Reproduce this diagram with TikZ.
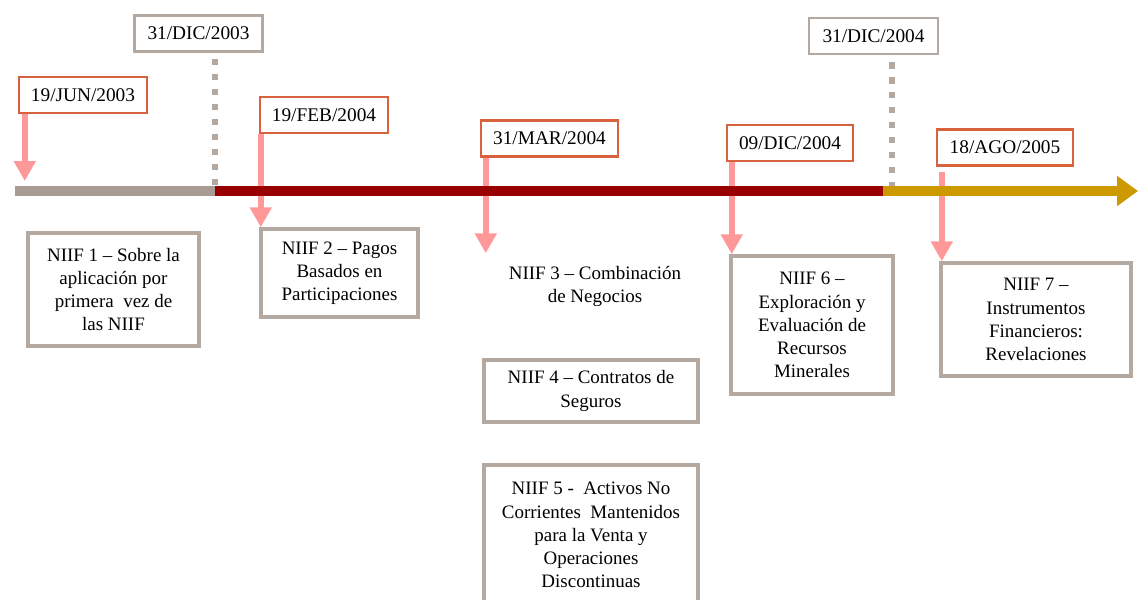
\documentclass[tikz,border=0pt]{standalone}
\usepackage{fontspec}
\setmainfont{Liberation Serif}
\usepackage{xcolor}
\usetikzlibrary{arrows.meta}

\definecolor{dateorange}{HTML}{D9623E}
\definecolor{boxgray}{HTML}{B3A9A1}
\definecolor{arrowpink}{HTML}{FF9999}
\definecolor{linegray}{HTML}{A89C94}
\definecolor{linered}{HTML}{990000}
\definecolor{linegold}{HTML}{CC9900}

\begin{document}
\begin{tikzpicture}[x=0.02cm,y=-0.02cm]
        % Define styles
        \tikzset{
            datebox/.style={rectangle, draw=dateorange, line width=0.05cm, fill=white, minimum width=2.56cm, minimum height=0.72cm, inner sep=0pt, font=\fontsize{11}{13.2}\selectfont},
            milestone/.style={datebox, draw=boxgray},
            niif/.style={rectangle, draw=boxgray, line width=0.07cm, fill=white, align=center, inner sep=0pt, font=\fontsize{10.8}{13.2}\selectfont},
            arrow/.style={draw=arrowpink, line width=0.12cm, -{Triangle[width=0.42cm,length=0.4cm]}},
            dots/.style={draw=boxgray, line width=0.13cm, dash pattern=on 0.13cm off 0.17cm},
            timeline/.style={line width=0.2cm}
        }
        \useasboundingbox (0,0) rectangle (1138,599);

        % Timeline points
        \coordinate (t0) at (15,191);
        \coordinate (t1) at (215,191);
        \coordinate (t2) at (883,191);
        \coordinate (t3) at (1138,191);

        % Nodes
        \node[milestone] (milestone_node_1) at (198.5,33.5) {31/DIC/2003};
        \node[milestone, minimum width=2.58cm] (milestone_node_2) at (873.5,36) {31/DIC/2004};

        \node[datebox] (date_node_1) at (83,95) {19/JUN/2003};
        \node[datebox] (date_node_2) at (324,115) {19/FEB/2004};
        \node[datebox, minimum width=2.74cm] (date_node_3) at (549.5,138.5) {31/MAR/2004};
        \node[datebox, minimum width=2.52cm] (date_node_4) at (790,143) {09/DIC/2004};
        \node[datebox, minimum width=2.72cm] (date_node_5) at (1005,147.5) {18/AGO/2005};

        \node[niif, minimum width=3.42cm, minimum height=2.26cm] (niif_node_1) at (113.5,289.5) {NIIF 1 – Sobre la\\aplicación por\\primera\ \ vez de\\las NIIF};
        \node[niif, minimum width=3.14cm, minimum height=1.76cm] (niif_node_2) at (339.5,273) {NIIF 2 – Pagos\\Basados en\\Participaciones};
        \node[niif, draw=none, minimum width=4.2cm, minimum height=1.26cm] (niif_node_3) at (595,286.5) {NIIF 3 – Combinación\\de Negocios};
        \node[niif, minimum width=4.28cm, minimum height=1.24cm] (niif_node_4) at (591,391) {NIIF 4 – Contratos de\\Seguros};
        \node[niif, minimum width=4.28cm, minimum height=2.8cm] (niif_node_5) at (591,535) {NIIF 5 -\ \ Activos No\\Corrientes\ \ Mantenidos\\para la Venta y\\Operaciones\\Discontinuas};
        \node[niif, minimum width=3.24cm, minimum height=2.76cm] (niif_node_6) at (812,325) {NIIF 6 –\\Exploración y\\Evaluación de\\Recursos\\Minerales};
        \node[niif, minimum width=3.8cm, minimum height=2.26cm] (niif_node_7) at (1036,319.5) {NIIF 7 –\\Instrumentos\\Financieros:\\Revelaciones};

        % Arrow ends
        \coordinate (a1) at ([xshift=0.14cm]date_node_1.south west);
        \coordinate (a1e) at ([yshift=0.2cm]a1 |- t0);
        \coordinate (a2) at ([xshift=0.04cm]date_node_2.south west);
        \coordinate (a3) at ([xshift=0.12cm]date_node_3.south west);
        \coordinate (a4) at ([xshift=0.12cm]date_node_4.south west);
        \coordinate (a5) at ([xshift=0.12cm,yshift=-0.1cm]date_node_5.south west);

        % Arrows
        \draw[arrow] (a1) -- (a1e);
        \draw[arrow] (a2) -- (a2 |- niif_node_2.north);
        \draw[arrow] (a3) -- (a3 |- niif_node_3.north);
        \draw[arrow] (a4) -- (a4 |- niif_node_6.north);
        \draw[arrow] (a5) -- (a5 |- niif_node_7.north);

        % Dotted year ends
        \draw[dots] ([yshift=-0.12cm]t1 |- milestone_node_1.south) -- ([yshift=0.1cm]t1);
        \draw[dots] (892,62) -- (892,188);

        % Timeline
        \draw[timeline, linegray] (t0) -- (t1);
        \draw[timeline, linered] (t1) -- (t2);
        \draw[timeline, linegold, -{Triangle[width=0.58cm,length=0.42cm]}] (t2) -- (t3);
    \end{tikzpicture}
\end{document}
